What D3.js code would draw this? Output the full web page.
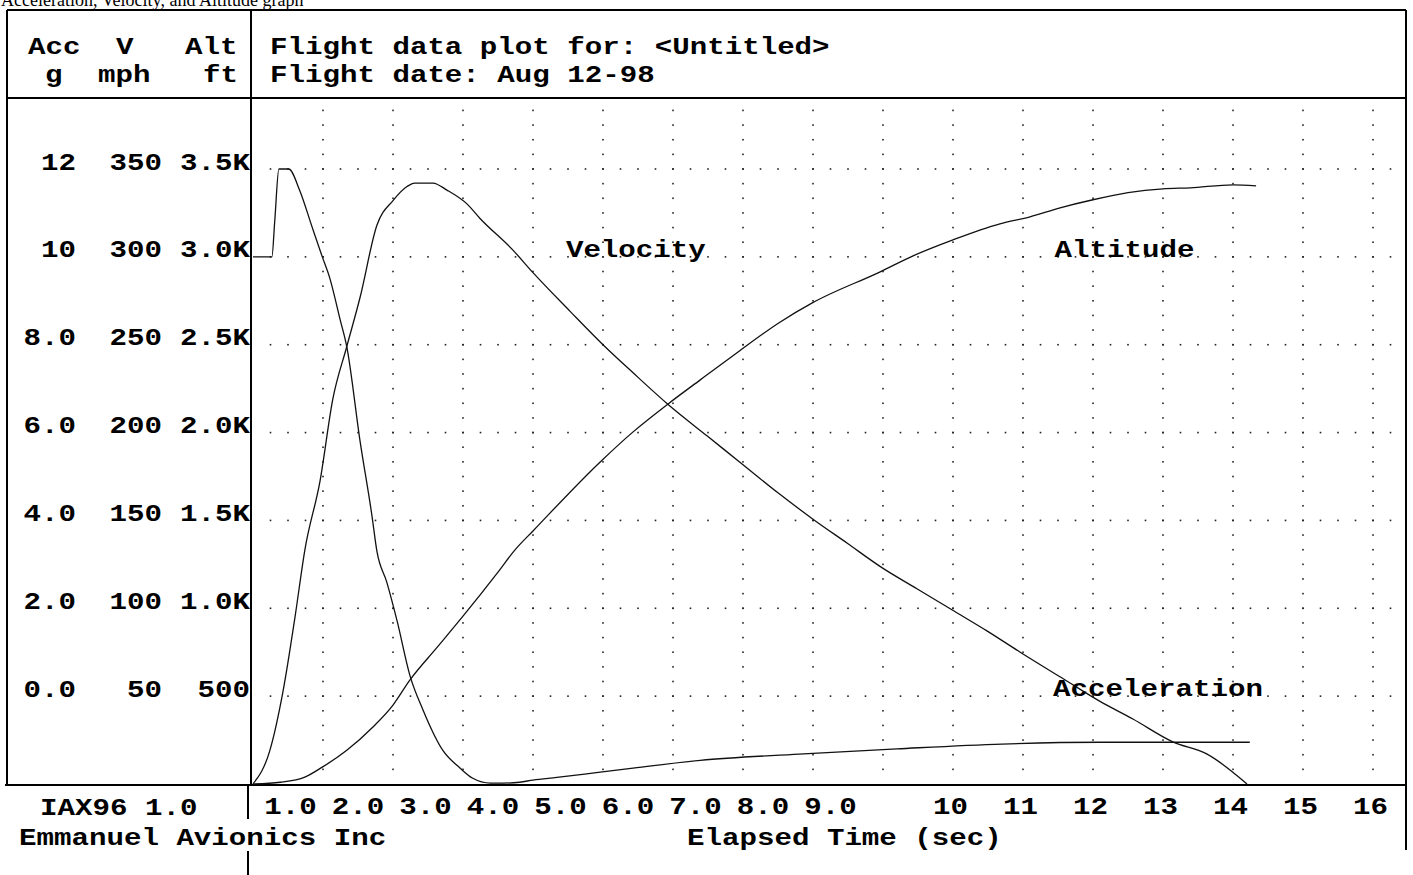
<!DOCTYPE html>
<html>
<head>
<meta charset="utf-8">
<script src="https://cdn.jsdelivr.net/npm/d3@7"></script>
<style>
  html, body { margin: 0; padding: 0; background: #fff; }
  svg { display: block; }
  .mono { font-family: "Liberation Mono", "DejaVu Sans Mono", monospace; font-weight: bold; font-size: 24px; fill: #000; }
</style>
</head>
<body>
<div id="chart"></div>
<script>

// Flight data
const accTime = [0, 0.27, 0.31, 0.37, 0.51, 0.67, 0.84, 0.99, 1.1, 1.24, 1.34, 1.53, 1.7, 1.77, 1.91, 2.06, 2.24, 2.43, 2.71, 2.96, 3.14, 3.39, 3.57, 3.81, 4.0, 4.34, 4.96, 5.43, 6.39, 7.8, 9.2, 10.7, 12.1, 14.24];
const accG    = [10, 10, 10.8, 12, 12, 11.5, 10.7, 10, 9.5, 8.6, 7.95, 5.8, 4.1, 3.3, 2.6, 1.7, 0.48, -0.32, -1.23, -1.64, -1.87, -1.98, -1.98, -1.96, -1.91, -1.85, -1.73, -1.64, -1.46, -1.32, -1.2, -1.09, -1.05, -1.05];

const velTime = [0, 0.24, 0.43, 0.6, 0.74, 0.96, 1.14, 1.34, 1.53, 1.77, 2.0, 2.2, 2.31, 2.57, 2.77, 3.06, 3.24, 3.71, 4.0, 4.53, 5.0, 5.43, 5.93, 6.49, 6.96, 7.49, 7.99, 8.49, 8.99, 9.49, 9.99, 10.49, 10.96, 11.57, 12.1, 12.57, 13.14, 13.63, 14.2];
const velMph  = [0, 19, 53, 95, 133, 173, 219, 249, 277, 318, 332, 340, 342, 342, 338, 330, 322, 304, 291, 269, 250, 234, 216, 198, 183, 166, 151, 137, 123, 111, 99, 87, 75, 60, 47, 37, 24, 17, 0];

const altTime = [0, 0.39, 0.74, 0.99, 1.34, 1.71, 2.0, 2.24, 2.62, 3.0, 3.5, 3.74, 4.0, 4.96, 5.43, 5.93, 6.39, 6.91, 7.51, 7.99, 8.96, 9.43, 10.0, 10.67, 11.1, 11.53, 12.0, 12.5, 13.0, 13.39, 14.0, 14.33];
const altFt   = [0, 10, 39, 96, 192, 323, 449, 591, 773, 955, 1206, 1331, 1440, 1833, 2004, 2163, 2300, 2453, 2624, 2738, 2915, 3006, 3097, 3188, 3228, 3279, 3325, 3365, 3387, 3393, 3410, 3404];

// Axis ticks and their labels
const accTicks  = [12, 10, 8, 6, 4, 2, 0];
const accLabels = ['12', '10', '8.0', '6.0', '4.0', '2.0', '0.0'];
const velTicks  = [350, 300, 250, 200, 150, 100, 50];
const velLabels = ['350', '300', '250', '200', '150', '100', '50'];
const altTicks  = [3500, 3000, 2500, 2000, 1500, 1000, 500];
const altLabels = ['3.5K', '3.0K', '2.5K', '2.0K', '1.5K', '1.0K', '500'];
const timeTicks  = [1, 2, 3, 4, 5, 6, 7, 8, 9, 10, 11, 12, 13, 14, 15, 16];
const timeLabels = ['1.0', '2.0', '3.0', '4.0', '5.0', '6.0', '7.0', '8.0', '9.0', '10', '11', '12', '13', '14', '15', '16'];

const W = 1413, H = 875;
const plotLeft = 253, plotRight = 1373, plotTop = 169, plotBottom = 784;
const stretch = 1.215;   // widen the monospace glyphs to the 17.5px cell of the screen font

const svg = d3.select('#chart').append('svg')
    .attr('width', W)
    .attr('height', H);

// Scales
const x    = d3.scaleLinear().domain([0, 16]).range([plotLeft, plotRight]);
const yAcc = d3.scaleLinear().domain([-2, 12]).range([plotBottom, plotTop]);
const yVel = d3.scaleLinear().domain([0, 350]).range([plotBottom, plotTop]);
const yAlt = d3.scaleLinear().domain([0, 3500]).range([plotBottom, plotTop]);

const place = (px, py) => `translate(${px},${py}) scale(${stretch},1)`;

// Scanned caption cut off at the top edge
svg.append('text')
    .attr('x', 1).attr('y', 6)
    .attr('font-family', '"Liberation Serif", serif')
    .attr('font-size', 18)
    .text('Acceleration, Velocity, and Altitude graph');

// Frame
const frame = svg.append('g')
    .attr('stroke', '#000')
    .attr('stroke-width', 1.5)
    .attr('shape-rendering', 'crispEdges');

frame.append('line').attr('x1', 7).attr('x2', 1406).attr('y1', 10).attr('y2', 10);
frame.append('line').attr('x1', 7).attr('x2', 1406).attr('y1', 98).attr('y2', 98);
frame.append('line').attr('x1', 5).attr('x2', 1406).attr('y1', 785).attr('y2', 785);
frame.append('line').attr('x1', 7).attr('x2', 7).attr('y1', 10).attr('y2', 785);
frame.append('line').attr('x1', 1406).attr('x2', 1406).attr('y1', 10).attr('y2', 850);
frame.append('line').attr('x1', 251).attr('x2', 251).attr('y1', 10).attr('y2', 785);
frame.append('line').attr('x1', 248).attr('x2', 248).attr('y1', 785).attr('y2', 819);
frame.append('line').attr('x1', 248).attr('x2', 248).attr('y1', 851).attr('y2', 875);

// Dotted grid
const grid = svg.append('g').attr('fill', '#222');
const rowDots = d3.range(0.25, 16.26, 0.25);
accTicks.forEach(g => {
    grid.selectAll(null)
        .data(rowDots)
        .join('rect')
        .attr('x', t => x(t) - 0.8)
        .attr('y', yAcc(g) - 0.8)
        .attr('width', 1.6).attr('height', 1.6);
});
const colDots = d3.range(1, 47).map(k => -2 + k / 3);
timeTicks.forEach(t => {
    grid.selectAll(null)
        .data(colDots)
        .join('rect')
        .attr('x', x(t) - 0.8)
        .attr('y', g => yAcc(g) - 0.8)
        .attr('width', 1.6).attr('height', 1.6);
});

// Left axes: three label columns
function leftAxis(scale, ticks, labels, xpos) {
    const g = svg.append('g')
        .attr('transform', `translate(${xpos},0)`)
        .call(d3.axisLeft(scale)
            .tickValues(ticks)
            .tickSize(0)
            .tickPadding(0)
            .tickFormat((d, i) => labels[i]));
    g.select('.domain').remove();
    g.attr('font-family', null).attr('font-size', null);
    g.selectAll('text')
        .attr('class', 'mono')
        .attr('x', null)
        .attr('dy', null)
        .attr('transform', place(0, 0));
}
leftAxis(yAcc, accTicks, accLabels, 76);
leftAxis(yVel, velTicks, velLabels, 162);
leftAxis(yAlt, altTicks, altLabels, 250);

// Bottom axis; the one-decimal labels sit on their own tighter pitch
const tickLabelX = d3.scaleLinear().domain([1, 9]).range([x(1) - 33, x(9) - 53]);
const xAxis = svg.append('g')
    .attr('transform', `translate(0,${plotBottom})`)
    .call(d3.axisBottom(x)
        .tickValues(timeTicks)
        .tickSize(0)
        .tickPadding(0)
        .tickFormat((d, i) => timeLabels[i]));
xAxis.select('.domain').remove();
xAxis.attr('font-family', null).attr('font-size', null);
xAxis.selectAll('text')
    .attr('class', 'mono')
    .attr('y', null)
    .attr('dy', null)
    .attr('transform', d => place(d < 10 ? tickLabelX(d) - x(d) : -3, 30));

// Header and footer text
const labels = [
    ['Acc', 28, 54], ['V', 116, 54], ['Alt', 185, 54],
    ['g', 45, 82], ['mph', 98, 82], ['ft', 203, 82],
    ['Flight data plot for: <Untitled>', 270, 54],
    ['Flight date: Aug 12-98', 270, 82],
    ['IAX96 1.0', 40, 815],
    ['Emmanuel Avionics Inc', 19, 845],
    ['Elapsed Time (sec)', 687, 845]
];
svg.append('g').selectAll('text')
    .data(labels)
    .join('text')
    .attr('class', 'mono')
    .attr('transform', d => place(d[1], d[2]))
    .text(d => d[0]);

// Curves
const curves = svg.append('g')
    .attr('fill', 'none')
    .attr('stroke', '#111')
    .attr('stroke-width', 1.3);

curves.append('path')
    .datum(accTime.map((t, i) => [t, accG[i]]))
    .attr('d', d3.line().x(d => x(d[0])).y(d => yAcc(d[1])).curve(d3.curveMonotoneX));
curves.append('path')
    .datum(velTime.map((t, i) => [t, velMph[i]]))
    .attr('d', d3.line().x(d => x(d[0])).y(d => yVel(d[1])).curve(d3.curveMonotoneX));
curves.append('path')
    .datum(altTime.map((t, i) => [t, altFt[i]]))
    .attr('d', d3.line().x(d => x(d[0])).y(d => yAlt(d[1])).curve(d3.curveMonotoneX));

// Series names
const names = [['Velocity', 4.47, 10], ['Altitude', 11.45, 10], ['Acceleration', 11.43, 0]];
svg.append('g').selectAll('text')
    .data(names)
    .join('text')
    .attr('class', 'mono')
    .attr('transform', d => place(x(d[1]), yAcc(d[2])))
    .text(d => d[0]);

</script>
</body>
</html>
